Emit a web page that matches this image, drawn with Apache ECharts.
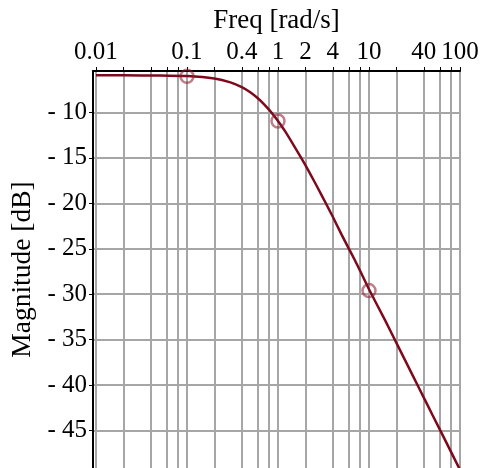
<!DOCTYPE html>
<html>
<head>
<meta charset="utf-8">
<script src="https://cdn.jsdelivr.net/npm/echarts@6/dist/echarts.min.js"></script>
<style>html,body{margin:0;padding:0;background:#fff}#c{width:484px;height:468px}</style>
</head>
<body>
<div id="c"></div>
<script>
const freq = [0.01,0.02,0.05,0.1,0.2,0.3,0.4,0.5,0.6,0.7,0.8,0.9,1,1.2,1.5,2,2.5,3,4,5,6,7,8,10,15,20,30,40,50,70,100];
const magnitude = [-5.93,-5.94,-5.96,-6.02,-6.29,-6.71,-7.23,-7.82,-8.45,-9.09,-9.73,-10.35,-10.95,-12.1,-13.69,-15.8,-17.58,-19.07,-21.48,-23.45,-24.99,-26.26,-27.44,-29.45,-32.85,-35.35,-38.86,-41.36,-43.3,-46.2,-49.3];
const markerFreq = [0.1, 1, 10];
const markerMag = [-6.05, -10.95, -29.6];
const xTickLabels = [0.01,0.1,0.4,1,2,4,10,40,100];
const xGridValues = [0.01,0.02,0.04,0.06,0.08,0.1,0.2,0.4,0.6,0.8,1,2,4,6,8,10,20,40,60,80,100];
const yTickValues = [-45,-40,-35,-30,-25,-20,-15,-10];

const font = 'Liberation Serif';
const chart = echarts.init(document.getElementById('c'), null, {renderer:'canvas'});
chart.setOption({
  animation:false,
  grid:{left:93, right:24, top:71, bottom:0, containLabel:false},
  xAxis:{
    type:'log', position:'top', min:0.00927, max:100, logBase:10,
    name:'Freq [rad/s]', nameLocation:'middle', nameGap:37,
    nameTextStyle:{fontFamily:font, fontSize:27, color:'#000'},
    axisLine:{show:true, lineStyle:{color:'#000', width:2}},
    axisTick:{show:true, customValues:xGridValues, length:4, inside:false, lineStyle:{color:'#000', width:1}},
    axisLabel:{customValues:xTickLabels, fontFamily:font, fontSize:25, color:'#000', margin:6,
      formatter:v=>String(+(+v).toPrecision(6))},
    splitLine:{show:true, lineStyle:{color:'#a6a6a6', width:2}},
    minorTick:{show:false}, minorSplitLine:{show:false}
  },
  yAxis:{
    type:'value', min:-49.1, max:-5.46,
    name:'Magnitude [dB]', nameLocation:'middle', nameGap:50, nameRotate:90,
    nameTextStyle:{fontFamily:font, fontSize:27.5, color:'#000'},
    axisLine:{show:true, lineStyle:{color:'#000', width:2}},
    axisTick:{show:true, customValues:yTickValues, length:4, lineStyle:{color:'#000', width:1}},
    axisLabel:{customValues:yTickValues, fontFamily:font, fontSize:25, color:'#000', margin:6,
      formatter:v=> v<0 ? '- ' + Math.abs(v) : String(v)},
    splitLine:{show:true, lineStyle:{color:'#a6a6a6', width:2}}
  },
  series:[
    {type:'line', data:freq.map((f,i)=>[f, magnitude[i]]), showSymbol:false, smooth:0.2,
      lineStyle:{color:'#7d0a1c', width:2.5}, z:3, clip:true},
    {type:'scatter', data:markerFreq.map((f,i)=>[f, markerMag[i]]), symbol:'circle', symbolSize:13,
      itemStyle:{color:'rgba(0,0,0,0)', borderColor:'rgba(140,25,45,0.7)', borderWidth:2.5}, z:4}
  ]
});
</script>
</body>
</html>
